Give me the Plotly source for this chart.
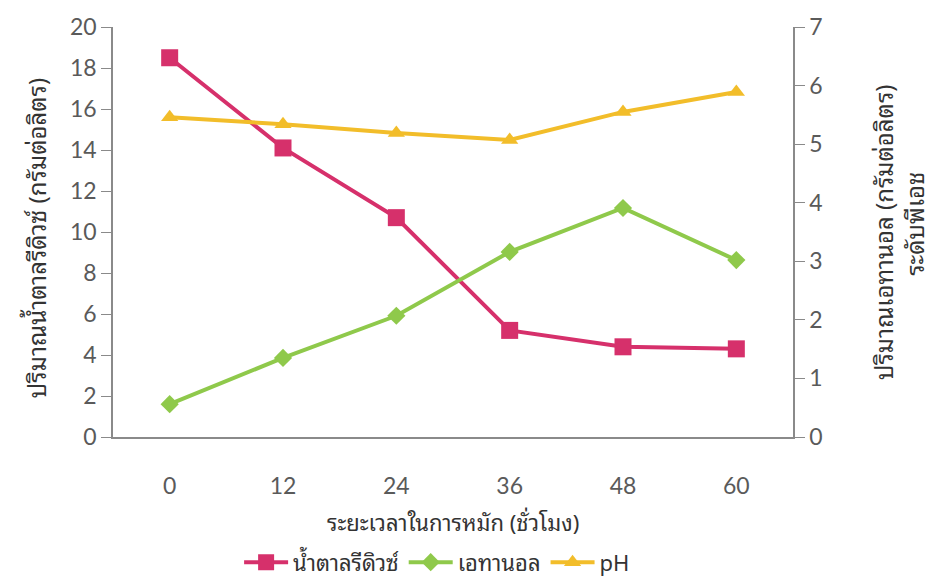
import plotly.graph_objects as go

# Fermentation time (hours)
hours = ["0", "12", "24", "36", "48", "60"]
# Reducing sugar (g/L), left axis
sugar = [18.5, 14.1, 10.7, 5.2, 4.4, 4.3]
# Ethanol (g/L) and pH, right axis
ethanol = [0.56, 1.35, 2.07, 3.16, 3.91, 3.02]
ph = [5.46, 5.34, 5.19, 5.07, 5.55, 5.89]

left_ticks = [0, 2, 4, 6, 8, 10, 12, 14, 16, 18, 20]
right_ticks = [0, 1, 2, 3, 4, 5, 6, 7]

FONT = ("Tahoma, 'Noto Sans Thai Looped', Loma, Garuda, Norasi, 'Tlwg Typo', "
        "'Noto Sans Thai', 'Noto Sans', sans-serif")
NUM_FONT = "Lato, 'Open Sans', sans-serif"
MAGENTA = "#d6306b"
GREEN = "#8fc94b"
YELLOW = "#f2bd2a"

fig = go.Figure()
fig.add_trace(go.Scatter(
    x=hours, y=sugar, name="น้ำตาลรีดิวซ์", mode="lines+markers",
    line=dict(color=MAGENTA, width=4),
    marker=dict(symbol="square", size=17, color=MAGENTA),
))
fig.add_trace(go.Scatter(
    x=hours, y=ethanol, name="เอทานอล", mode="lines+markers", yaxis="y2",
    line=dict(color=GREEN, width=4),
    marker=dict(symbol="diamond", size=14, color=GREEN),
))
fig.add_trace(go.Scatter(
    x=hours, y=ph, name="pH", mode="lines+markers", yaxis="y2",
    line=dict(color=YELLOW, width=4),
    marker=dict(symbol="triangle-up", size=15, color=YELLOW),
))

axis_color = "#8a8a8a"
tick_font = dict(family=NUM_FONT, size=23, color="#5a5a5a")
title_font = dict(family=FONT, size=24, color="#333333")
bottom_font = dict(family=FONT, size=22, color="#333333")

fig.update_layout(
    width=936, height=578,
    margin=dict(l=113, r=143, t=27, b=141, autoexpand=False),
    paper_bgcolor="white", plot_bgcolor="white",
    font=dict(family=FONT, color="#333333"),
    showlegend=True,
    legend=dict(
        orientation="h", xref="container", yref="container",
        x=0.467, xanchor="center", y=0.027, yanchor="middle",
        font=bottom_font, itemwidth=44, tracegroupgap=0,
    ),
    xaxis=dict(
        type="category", range=[-0.5, 5.5], showline=True, linecolor=axis_color,
        linewidth=1.5, ticks="", showgrid=False, zeroline=False,
        tickfont=tick_font, ticklabelstandoff=28,
    ),
    yaxis=dict(
        range=[0, 20], tickvals=left_ticks, showline=True, linecolor=axis_color,
        linewidth=1.5, ticks="outside", ticklen=10, tickcolor=axis_color,
        showgrid=False, zeroline=False, tickfont=tick_font,
    ),
    yaxis2=dict(
        range=[0, 7], tickvals=right_ticks, overlaying="y", side="right",
        showline=True, linecolor=axis_color, linewidth=1.5, ticks="outside",
        ticklen=10, tickcolor=axis_color, showgrid=False, zeroline=False,
        tickfont=tick_font,
    ),
    annotations=[
        dict(text="ปริมาณน้ำตาลรีดิวซ์ (กรัมต่อลิตร)", textangle=-90,
             xref="paper", yref="paper", x=0, y=0.485, xanchor="center",
             yanchor="middle", xshift=-78, showarrow=False, font=title_font),
        dict(text="ปริมาณเอทานอล (กรัมต่อลิตร)", textangle=-90,
             xref="paper", yref="paper", x=1, y=0.5, xanchor="center",
             yanchor="middle", xshift=89, showarrow=False, font=title_font),
        dict(text="ระดับพีเอช", textangle=-90,
             xref="paper", yref="paper", x=1, y=0.52, xanchor="center",
             yanchor="middle", xshift=120, showarrow=False, font=title_font),
        dict(text="ระยะเวลาในการหมัก (ชั่วโมง)",
             xref="paper", yref="paper", x=0.5, y=0, xanchor="center",
             yanchor="middle", yshift=-84, showarrow=False, font=bottom_font),
    ],
)

fig.write_html("out.html")
